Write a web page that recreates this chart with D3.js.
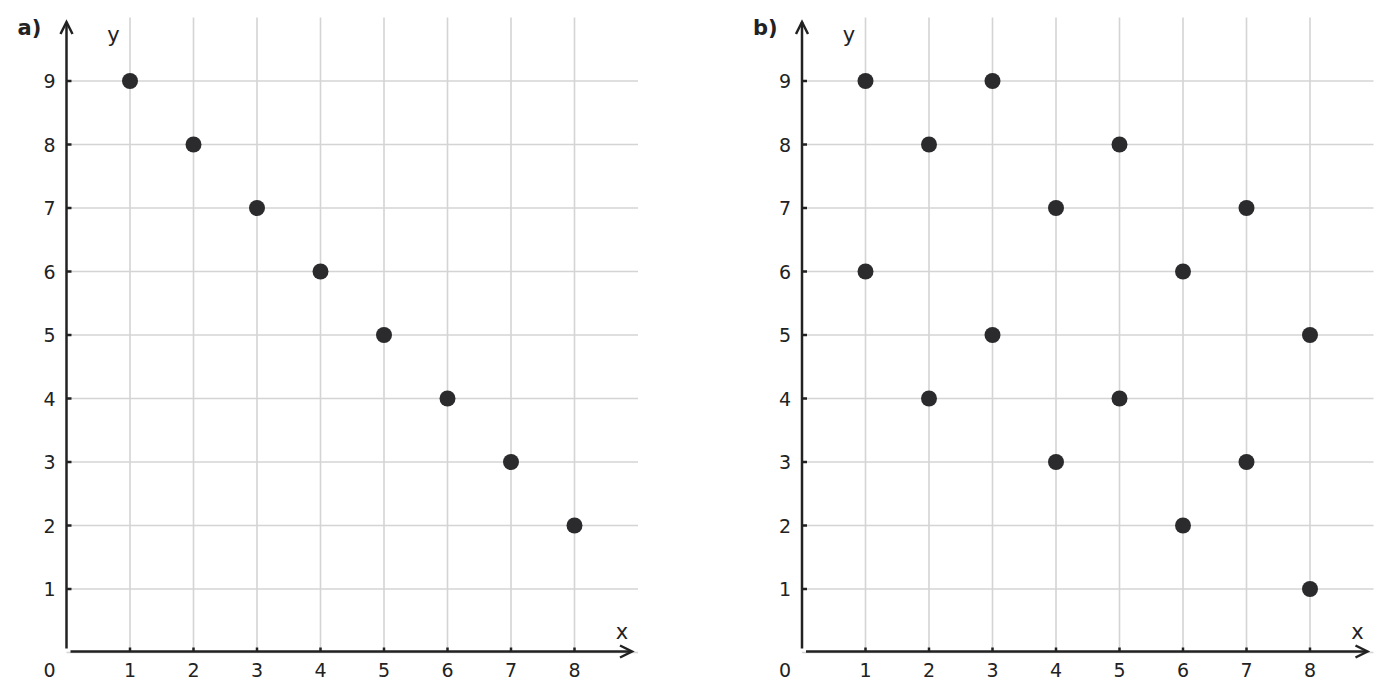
<!DOCTYPE html>
<html><head><meta charset="utf-8">
<script src="https://cdn.jsdelivr.net/npm/d3@7"></script>
<style>body{margin:0;background:#fff}svg{display:block}text{font-family:"DejaVu Sans",sans-serif;fill:#222}</style>
</head><body>
<svg id="c" width="1391" height="700"></svg>
<script>
const panelLabels = ["a)", "b)"];
const xTicks = [1,2,3,4,5,6,7,8];
const yTicks = [1,2,3,4,5,6,7,8,9];
const pointsA_x = [1,2,3,4,5,6,7,8];
const pointsA_y = [9,8,7,6,5,4,3,2];
const pointsB_x = [1,2,3,4,5,6,7,8,1,2,3,4,5,6,7,8];
const pointsB_y = [9,8,9,7,8,6,7,5,6,4,5,3,4,2,3,1];
const panels = [
  {label: panelLabels[0], xs: pointsA_x, ys: pointsA_y, ox: 66.5},
  {label: panelLabels[1], xs: pointsB_x, ys: pointsB_y, ox: 802}
];
const svg = d3.select("#c");
const oy = 652.5, unit = 63.5;
const ink = "#222";
panels.forEach(p => {
  const x = d3.scaleLinear().domain([0,9]).range([p.ox, p.ox + 9*unit]);
  const y = d3.scaleLinear().domain([0,10]).range([oy, oy - 10*unit]);
  const g = svg.append("g");
  g.selectAll(".vg").data(xTicks).join("line")
    .attr("x1", d=>x(d)).attr("x2", d=>x(d)).attr("y1", y(0)).attr("y2", y(10))
    .attr("stroke", "#d4d4d4").attr("stroke-width", 1.6);
  g.selectAll(".hg").data([0].concat(yTicks)).join("line")
    .attr("x1", x(0)).attr("x2", x(9)).attr("y1", d=>y(d)).attr("y2", d=>y(d))
    .attr("stroke", "#d4d4d4").attr("stroke-width", 1.6);
  g.append("line").attr("x1", x(0)).attr("x2", x(0)).attr("y1", oy-4).attr("y2", 22)
    .attr("stroke", ink).attr("stroke-width", 2.5);
  g.append("line").attr("x1", x(0)+4).attr("x2", x(9)-7).attr("y1", oy-1).attr("y2", oy-1)
    .attr("stroke", ink).attr("stroke-width", 2.5);
  g.append("path").attr("d", `M${x(0)-6},${34} L${x(0)},${22} L${x(0)+6},${34}`)
    .attr("fill","none").attr("stroke", ink).attr("stroke-width", 2.5);
  g.append("path").attr("d", `M${x(9)-18},${oy-7} L${x(9)-6},${oy-1} L${x(9)-18},${oy+5}`)
    .attr("fill","none").attr("stroke", ink).attr("stroke-width", 2.5);
  g.selectAll(".xt").data(xTicks).join("line")
    .attr("x1", d=>x(d)).attr("x2", d=>x(d)).attr("y1", oy-1).attr("y2", oy-5)
    .attr("stroke", ink).attr("stroke-width", 2.5);
  g.selectAll(".yt").data(yTicks).join("line")
    .attr("x1", x(0)).attr("x2", x(0)+5).attr("y1", d=>y(d)).attr("y2", d=>y(d))
    .attr("stroke", ink).attr("stroke-width", 2.5);
  g.selectAll(".xl").data(xTicks).join("text")
    .attr("x", d=>x(d)).attr("y", 677).attr("text-anchor","middle")
    .attr("font-size", 19).text(d=>d);
  g.selectAll(".yl").data(yTicks).join("text")
    .attr("x", x(0)-17).attr("y", d=>y(d)+7).attr("text-anchor","middle")
    .attr("font-size", 19).text(d=>d);
  g.append("text").attr("x", x(0)-17).attr("y", 677).attr("text-anchor","middle")
    .attr("font-size", 19).text("0");
  g.append("text").attr("x", x(0)+47).attr("y", 42).attr("text-anchor","middle")
    .attr("font-size", 21).text("y");
  g.append("text").attr("x", x(9)-16).attr("y", 639).attr("text-anchor","middle")
    .attr("font-size", 21).text("x");
  g.append("text").attr("x", x(0)-49).attr("y", 35)
    .attr("font-size", 21).attr("font-weight","bold").text(p.label);
  g.selectAll(".pt").data(p.xs.map((v,i)=>[v,p.ys[i]])).join("circle")
    .attr("cx", d=>x(d[0])).attr("cy", d=>y(d[1])).attr("r", 8)
    .attr("fill", "#2b2b2e");
});
</script>
</body></html>
